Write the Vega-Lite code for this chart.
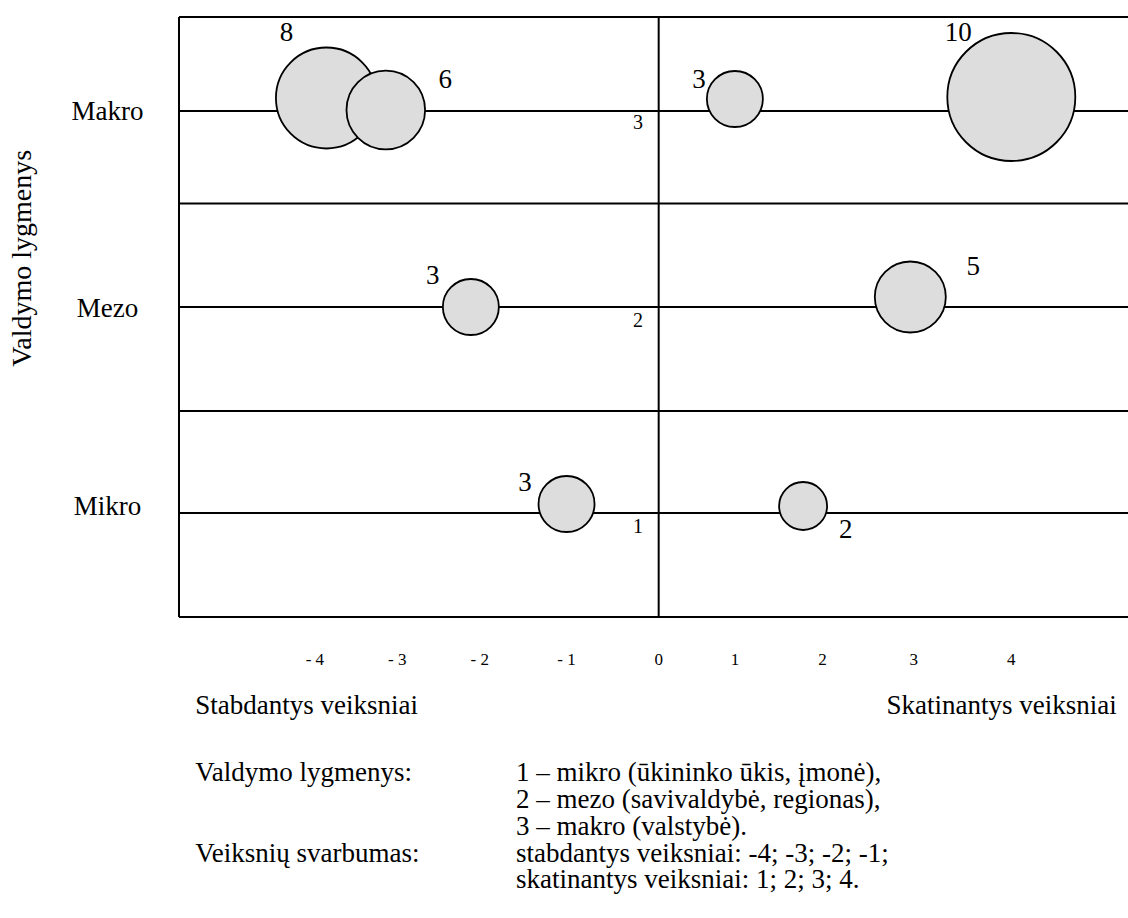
{
  "$schema": "https://vega.github.io/schema/vega-lite/v6.json",
  "width": 949,
  "height": 600,
  "autosize": {"type": "none"},
  "padding": {"left": 179, "top": 17, "right": 0, "bottom": 301},
  "background": "white",
  "config": {"view": {"stroke": null}, "font": "Liberation Serif"},
  "layer": [
    {
      "data": {"values": [
        {"x": -5.414, "x2": 5.297, "y": 6, "y2": 6},
        {"x": -5.414, "x2": 5.297, "y": 5.06, "y2": 5.06},
        {"x": -5.414, "x2": 5.297, "y": 4.134, "y2": 4.134},
        {"x": -5.414, "x2": 5.297, "y": 3.10, "y2": 3.10},
        {"x": -5.414, "x2": 5.297, "y": 2.06, "y2": 2.06},
        {"x": -5.414, "x2": 5.297, "y": 1.04, "y2": 1.04},
        {"x": -5.414, "x2": 5.297, "y": 0, "y2": 0},
        {"x": -5.414, "x2": -5.414, "y": 0, "y2": 6},
        {"x": 0, "x2": 0, "y": 0, "y2": 6}
      ]},
      "mark": {"type": "rule", "color": "black", "strokeWidth": 2},
      "encoding": {
        "x": {"field": "x", "type": "quantitative", "scale": {"domain": [-5.414, 5.297], "nice": false, "zero": false}, "axis": null},
        "x2": {"field": "x2"},
        "y": {"field": "y", "type": "quantitative", "scale": {"domain": [0, 6], "nice": false, "zero": false}, "axis": null},
        "y2": {"field": "y2"}
      }
    },
    {
      "data": {"values": [
        {"lygmuo": "Makro", "poveikis": -3.75, "y": 5.19, "svarba": 8, "lx": -4.2, "ly": 5.84},
        {"lygmuo": "Makro", "poveikis": -3.08, "y": 5.07, "svarba": 6, "lx": -2.41, "ly": 5.37},
        {"lygmuo": "Makro", "poveikis": 0.86, "y": 5.18, "svarba": 3, "lx": 0.455, "ly": 5.37},
        {"lygmuo": "Makro", "poveikis": 3.98, "y": 5.20, "svarba": 10, "lx": 3.38, "ly": 5.84},
        {"lygmuo": "Mezo", "poveikis": -2.12, "y": 3.10, "svarba": 3, "lx": -2.55, "ly": 3.41},
        {"lygmuo": "Mezo", "poveikis": 2.84, "y": 3.20, "svarba": 5, "lx": 3.55, "ly": 3.50},
        {"lygmuo": "Mikro", "poveikis": -1.04, "y": 1.13, "svarba": 3, "lx": -1.51, "ly": 1.34},
        {"lygmuo": "Mikro", "poveikis": 1.63, "y": 1.11, "svarba": 2, "lx": 2.11, "ly": 0.87}
      ]},
      "layer": [
        {
          "mark": {"type": "point", "shape": "circle", "filled": true, "fill": "#dddddd", "stroke": "black", "strokeWidth": 1.8, "opacity": 1, "fillOpacity": 1, "strokeOpacity": 1},
          "encoding": {
            "x": {"field": "poveikis", "type": "quantitative", "scale": {"domain": [-5.414, 5.297], "nice": false, "zero": false}, "axis": null},
            "y": {"field": "y", "type": "quantitative", "scale": {"domain": [0, 6], "nice": false, "zero": false}, "axis": null},
            "size": {"field": "svarba", "type": "quantitative", "scale": {"domain": [2, 3, 5, 6, 8, 10], "range": [2304, 3136, 5041, 6178, 10201, 16384]}, "legend": null}
          }
        },
        {
          "mark": {"type": "text", "font": "Liberation Serif", "fontSize": 27, "color": "black", "align": "center", "baseline": "middle"},
          "encoding": {
            "x": {"field": "lx", "type": "quantitative", "scale": {"domain": [-5.414, 5.297], "nice": false, "zero": false}, "axis": null},
            "y": {"field": "ly", "type": "quantitative", "scale": {"domain": [0, 6], "nice": false, "zero": false}, "axis": null},
            "text": {"field": "svarba", "type": "nominal"}
          }
        }
      ]
    },
    {
      "data": {"values": [
        {"x": -0.233, "y": 4.937, "t": "3"},
        {"x": -0.233, "y": 2.957, "t": "2"},
        {"x": -0.233, "y": 0.897, "t": "1"}
      ]},
      "mark": {"type": "text", "font": "Liberation Serif", "fontSize": 20, "color": "black", "align": "center", "baseline": "middle"},
      "encoding": {
        "x": {"field": "x", "type": "quantitative", "scale": {"domain": [-5.414, 5.297], "nice": false, "zero": false}, "axis": null},
        "y": {"field": "y", "type": "quantitative", "scale": {"domain": [0, 6], "nice": false, "zero": false}, "axis": null},
        "text": {"field": "t"}
      }
    },
    {
      "data": {"values": [
        {"x": -3.88, "t": "- 4"},
        {"x": -2.95, "t": "- 3"},
        {"x": -2.02, "t": "-  2"},
        {"x": -1.04, "t": "- 1"},
        {"x": 0, "t": "0"},
        {"x": 0.86, "t": "1"},
        {"x": 1.85, "t": "2"},
        {"x": 2.88, "t": "3"},
        {"x": 3.98, "t": "4"}
      ]},
      "mark": {"type": "text", "font": "Liberation Serif", "fontSize": 17, "color": "black", "align": "center", "baseline": "middle"},
      "encoding": {
        "x": {"field": "x", "type": "quantitative", "scale": {"domain": [-5.414, 5.297], "nice": false, "zero": false}, "axis": null},
        "y": {"datum": -0.428, "type": "quantitative", "scale": {"domain": [0, 6], "nice": false, "zero": false}, "axis": null},
        "text": {"field": "t"}
      }
    },
    {
      "data": {"values": [
        {"x": -6.22, "y": 5.047, "t": "Makro"},
        {"x": -6.22, "y": 3.077, "t": "Mezo"},
        {"x": -6.22, "y": 1.097, "t": "Mikro"}
      ]},
      "mark": {"type": "text", "font": "Liberation Serif", "fontSize": 27, "color": "black", "align": "center", "baseline": "middle"},
      "encoding": {
        "x": {"field": "x", "type": "quantitative", "scale": {"domain": [-5.414, 5.297], "nice": false, "zero": false}, "axis": null},
        "y": {"field": "y", "type": "quantitative", "scale": {"domain": [0, 6], "nice": false, "zero": false}, "axis": null},
        "text": {"field": "t"}
      }
    },
    {
      "data": {"values": [
        {"x": -7.18, "y": 3.587, "t": "Valdymo lygmenys"}
      ]},
      "mark": {"type": "text", "font": "Liberation Serif", "fontSize": 28, "color": "black", "align": "center", "baseline": "middle", "angle": 270},
      "encoding": {
        "x": {"field": "x", "type": "quantitative", "scale": {"domain": [-5.414, 5.297], "nice": false, "zero": false}, "axis": null},
        "y": {"field": "y", "type": "quantitative", "scale": {"domain": [0, 6], "nice": false, "zero": false}, "axis": null},
        "text": {"field": "t"}
      }
    },
    {
      "data": {"values": [
        {"x": -5.23, "y": -0.973, "t": "Stabdantys veiksniai"},
        {"x": -5.23, "y": -1.643, "t": "Valdymo lygmenys:"},
        {"x": -5.23, "y": -2.453, "t": "Veiksnių svarbumas:"},
        {"x": -1.61, "y": -1.643, "t": "1 – mikro (ūkininko ūkis, įmonė),"},
        {"x": -1.61, "y": -1.913, "t": "2 – mezo (savivaldybė, regionas),"},
        {"x": -1.61, "y": -2.183, "t": "3 – makro (valstybė)."},
        {"x": -1.61, "y": -2.453, "t": "stabdantys veiksniai: -4; -3; -2; -1;"},
        {"x": -1.61, "y": -2.713, "t": "skatinantys veiksniai: 1; 2; 3; 4."}
      ]},
      "mark": {"type": "text", "font": "Liberation Serif", "fontSize": 27, "color": "black", "align": "left", "baseline": "alphabetic"},
      "encoding": {
        "x": {"field": "x", "type": "quantitative", "scale": {"domain": [-5.414, 5.297], "nice": false, "zero": false}, "axis": null},
        "y": {"field": "y", "type": "quantitative", "scale": {"domain": [0, 6], "nice": false, "zero": false}, "axis": null},
        "text": {"field": "t"}
      }
    },
    {
      "data": {"values": [
        {"x": 5.17, "y": -0.973, "t": "Skatinantys veiksniai"}
      ]},
      "mark": {"type": "text", "font": "Liberation Serif", "fontSize": 27, "color": "black", "align": "right", "baseline": "alphabetic"},
      "encoding": {
        "x": {"field": "x", "type": "quantitative", "scale": {"domain": [-5.414, 5.297], "nice": false, "zero": false}, "axis": null},
        "y": {"field": "y", "type": "quantitative", "scale": {"domain": [0, 6], "nice": false, "zero": false}, "axis": null},
        "text": {"field": "t"}
      }
    }
  ]
}
